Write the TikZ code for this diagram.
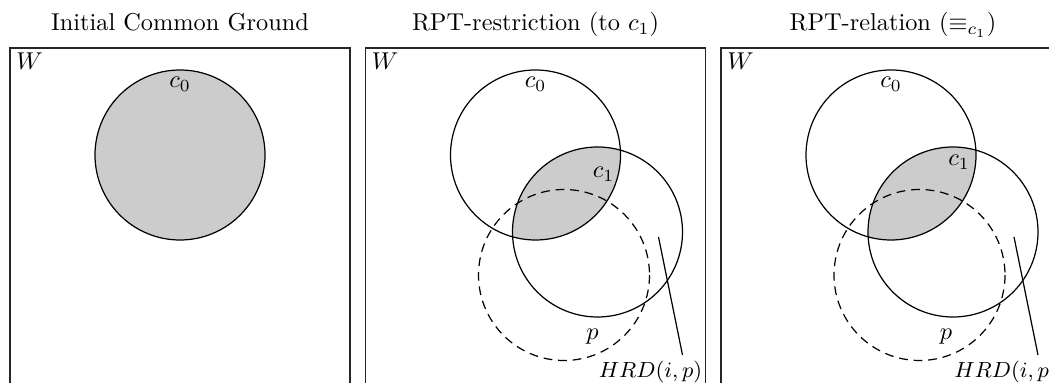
\documentclass[tikz,border=0pt]{standalone}
\begin{document}
\begin{tikzpicture}[x=0.4107pt,y=-0.4107pt,
  panelbox/.style={draw=black!85, line width=0.6pt},
  setc/.style={draw=black, line width=0.5pt},
  pset/.style={draw=black, line width=0.5pt, dash pattern=on 3.6pt off 2.4pt},
  lens/.style={fill=black!20},
  lbl/.style={inner sep=0pt},
  ttl/.style={anchor=base, inner sep=0pt},
  ptr/.style={draw=black, line width=0.5pt}]
\useasboundingbox (0,0) rectangle (1049,383);
\clip (0,0) rectangle (1049,383);

% ---------- Panel 1 ----------
\begin{scope}[shift={(10,0)}]
  \node[ttl] (t1) at (170,31) {Initial Common Ground};
  \draw[panelbox] (0,48) rectangle (340,420);
  \node[lbl, anchor=base west] (w1) at (6,70) {$W$};
  \draw[setc, lens] (170,155) circle (85);
  \node[lbl] (c0a) at (170,84) {$c_0$};
\end{scope}

% ---------- Panel 2 ----------
\begin{scope}[shift={(365.5,0)}]
  \node[ttl] (t2) at (170,31) {RPT-restriction (to $c_1$)};
  \draw[panelbox] (0,48) rectangle (340,420);
  \node[lbl, anchor=base west] (w2) at (6,70) {$W$};
  \begin{scope}
    \clip (170,155) circle (85);
    \fill[lens] (232,232) circle (85);
  \end{scope}
  \draw[setc] (170,155) circle (85);
  \draw[setc] (232,232) circle (85);
  \draw[pset] (198.5,275) circle (85.5);
  \node[lbl] (c0b) at (170,84) {$c_0$};
  \node[lbl] (c1b) at (238,174) {$c_1$};
  \node[lbl] (pb) at (227,337) {$p$};
  \node[lbl, font=\small] (hrdb) at (285,372) {$HRD(i,p)$};
  \coordinate (hb) at (293,237);
  \coordinate (eb) at (317,355);
  \draw[ptr] (hb) -- (eb);
\end{scope}

% ---------- Panel 3 ----------
\begin{scope}[shift={(721,0)}]
  \node[ttl] (t3) at (172,31) {RPT-relation ($\equiv_{c_1}$)};
  \draw[panelbox] (0,48) rectangle (340,420);
  \node[lbl, anchor=base west] (w3) at (6,70) {$W$};
  \begin{scope}
    \clip (170,155) circle (85);
    \fill[lens] (232,232) circle (85);
  \end{scope}
  \draw[setc] (170,155) circle (85);
  \draw[setc] (232,232) circle (85);
  \draw[pset] (198.5,275) circle (85.5);
  \node[lbl] (c0c) at (170,84) {$c_0$};
  \node[lbl] (c1c) at (238,162) {$c_1$};
  \node[lbl] (pc) at (225,337) {$p$};
  \node[lbl, font=\small] (hrdc) at (285,372) {$HRD(i,p)$};
  \coordinate (hc) at (293,237);
  \coordinate (ec) at (317,355);
  \draw[ptr] (hc) -- (ec);
\end{scope}
\end{tikzpicture}
\end{document}
